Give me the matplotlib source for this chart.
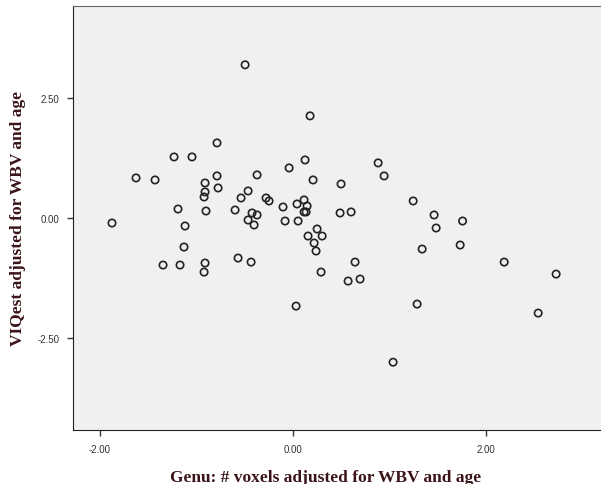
import matplotlib
matplotlib.use('Agg')
import matplotlib.pyplot as plt

# Genu voxels (x) vs VIQest (y), both adjusted for WBV and age
genu = [-1.876, -1.627, -1.430, -1.233, -1.047, -0.788, -0.788, -0.912, -0.912, -0.922,
        -0.777, -1.192, -0.902, -1.119, -1.130, -1.347, -1.171, -0.912, -0.922, -0.570,
        -0.435, -0.497, -0.373, -0.466, -0.539, -0.280, -0.249, -0.601, -0.425, -0.373,
        -0.466, -0.404, -0.041, -0.104, -0.083, 0.041, 0.052, 0.176, 0.124, 0.207,
        0.497, 0.114, 0.145, 0.114, 0.135, 0.487, 0.601, 0.249, 0.155, 0.301,
        0.218, 0.238, 0.642, 0.290, 0.570, 0.694, 0.031, 0.881, 0.943, 1.244,
        1.461, 1.756, 1.482, 1.337, 1.731, 2.187, 2.725, 1.285, 2.539, 1.036]
viq = [-0.105, 0.837, 0.795, 1.276, 1.276, 1.569, 0.879, 0.732, 0.544, 0.439,
       0.628, 0.188, 0.146, -0.167, -0.607, -0.983, -0.983, -0.941, -1.130, -0.837,
       -0.921, 3.201, 0.900, 0.565, 0.418, 0.418, 0.356, 0.167, 0.105, 0.063,
       -0.042, -0.146, 1.046, 0.230, -0.063, 0.293, -0.063, 2.134, 1.213, 0.795,
       0.711, 0.377, 0.251, 0.126, 0.126, 0.105, 0.126, -0.230, -0.377, -0.377,
       -0.523, -0.690, -0.921, -1.130, -1.318, -1.276, -1.841, 1.151, 0.879, 0.356,
       0.063, -0.063, -0.209, -0.649, -0.565, -0.921, -1.172, -1.799, -1.987, -3.013]

x_ticks = [-2.0, 0.0, 2.0]
y_ticks = [-2.5, 0.0, 2.5]

fig = plt.figure(figsize=(6.01, 4.85), dpi=100)
ax = fig.add_axes([73 / 601, 1 - 431 / 485, 1 - 73 / 601, (431 - 7) / 485])
ax.set_facecolor('#f0f0f0')

ax.scatter(genu, viq, s=28, facecolors='none', edgecolors='#222222', linewidths=1.2)

ax.set_xlim(-2.28, 3.19)
ax.set_ylim(-4.43, 4.43)
ax.set_xticks(x_ticks)
ax.set_yticks(y_ticks)
ax.set_xticklabels([f'{v:.2f}' for v in x_ticks])
ax.set_yticklabels([f'{v:.2f}' for v in y_ticks])
ax.tick_params(direction='out', length=4, width=1, colors='#333333',
               labelsize=7, labelcolor='#333333', pad=6)
for t in ax.get_xticklabels() + ax.get_yticklabels():
    t.set_family('Liberation Sans')

ax.spines['right'].set_visible(False)
ax.spines['top'].set_color('#666666')
ax.spines['left'].set_color('#222222')
ax.spines['bottom'].set_color('#222222')

label_color = '#3a1418'
ax.set_xlabel('Genu: # voxels adjusted for WBV and age', family='Liberation Serif',
              fontweight='bold', fontsize=12.5, color=label_color, labelpad=11)
ax.set_ylabel('VIQest adjusted for WBV and age', family='Liberation Serif',
              fontweight='bold', fontsize=12.5, color=label_color, labelpad=8)
ax.xaxis.label.set_x(0.479)

plt.savefig('out.png', dpi=100)
